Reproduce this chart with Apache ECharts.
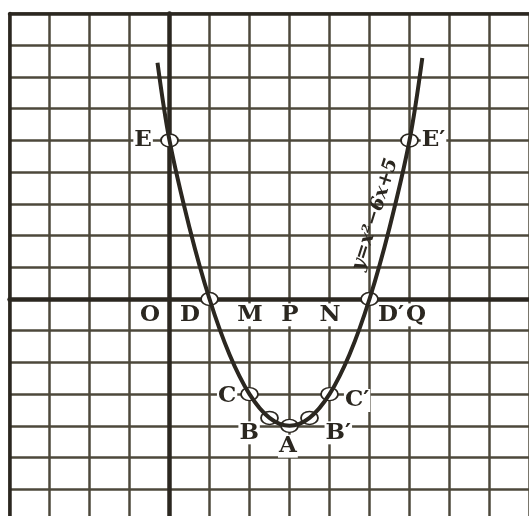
<!DOCTYPE html>
<html lang="en">
<head>
    <meta charset="UTF-8">
    <title>y = x² − 6x + 5</title>
    <script src="https://cdn.jsdelivr.net/npm/echarts@6/dist/echarts.min.js"></script>
    <style>
        html,
        body,
        #chart {
            width: 100%;
            height: 100%;
            margin: 0;
            padding: 0;
            background: #fff;
        }
    </style>
</head>
<body>
    <div id="chart"></div>
    <script>
        // curve
        var curveX = [-0.3, 0, 0.5, 1, 1.5, 2, 2.5, 3, 3.5, 4, 4.5, 5, 5.5, 6, 6.32];
        var curveY = [7.45, 5, 2.25, 0, -1.75, -3, -3.75, -4, -3.75, -3, -1.75, 0, 2.25, 5, 7.6];

        // small circled points
        var pointX = [0, 1, 2, 2.5, 3, 3.5, 4, 5, 6];
        var pointY = [5, 0, -3, -3.75, -4, -3.75, -3, 0, 5];

        // letters
        var labelNames = ['E', 'E′', 'O', 'D', 'M', 'P', 'N', 'D′', 'Q', 'C', 'C′', 'B', 'B′', 'A'];
        var labelX = [-0.66, 6.6, -0.49, 0.51, 2.01, 3.01, 4.01, 5.54, 6.16, 1.44, 4.69, 1.99, 4.22, 2.96];
        var labelY = [5, 5, -0.5, -0.5, -0.5, -0.5, -0.5, -0.5, -0.5, -3.06, -3.2, -4.22, -4.22, -4.64];

        var equation = 'y=x²−6x+5';
        var equationX = [5.14];
        var equationY = [2.66];

        var ink = '#2b2720';
        var gridInk = '#4d483b';

        function pairs(xs, ys) {
            return xs.map(function(x, i) {
                return [x, ys[i]];
            });
        }

        var chart = echarts.init(document.getElementById('chart'));

        var noTick = { show: false };
        var noLabel = { show: false };

        chart.setOption({
            backgroundColor: '#fff',
            animation: false,
            grid: {
                left: 9.5,
                top: 13.6,
                width: 520,
                height: 507.4,
                containLabel: false,
                outerBoundsMode: 'none'
            },
            xAxis: [{
                type: 'value',
                min: -4,
                max: 9,
                interval: 1,
                axisLine: { onZero: true, lineStyle: { color: ink, width: 4.5 } },
                axisTick: noTick,
                axisLabel: noLabel,
                splitLine: { show: true, lineStyle: { color: gridInk, width: 2.5 } }
            }, {
                type: 'value',
                position: 'top',
                min: -4,
                max: 9,
                axisLine: { show: true, onZero: false, lineStyle: { color: ink, width: 3.5 } },
                axisTick: noTick,
                axisLabel: noLabel,
                splitLine: { show: false }
            }],
            yAxis: [{
                type: 'value',
                min: -7,
                max: 9,
                interval: 1,
                axisLine: { show: true, onZero: true, lineStyle: { color: ink, width: 4.5 } },
                axisTick: noTick,
                axisLabel: noLabel,
                splitLine: { show: true, lineStyle: { color: gridInk, width: 2.5 } }
            }, {
                type: 'value',
                position: 'left',
                min: -7,
                max: 9,
                axisLine: { show: true, onZero: false, lineStyle: { color: ink, width: 3.5 } },
                axisTick: noTick,
                axisLabel: noLabel,
                splitLine: { show: false }
            }],
            series: [{
                type: 'scatter',
                z: 2,
                symbolSize: 1,
                itemStyle: { color: 'rgba(0,0,0,0)', opacity: 1 },
                data: labelNames.map(function(name, i) {
                    return { name: name, value: [labelX[i], labelY[i]] };
                }),
                label: {
                    show: true,
                    position: 'inside',
                    formatter: '{b}',
                    fontFamily: 'DejaVu Serif',
                    fontWeight: 'bold',
                    fontSize: 23,
                    color: ink,
                    opacity: 1,
                    backgroundColor: '#fff',
                    padding: [0, 1]
                }
            }, {
                type: 'scatter',
                z: 2,
                symbolSize: 1,
                itemStyle: { color: 'rgba(0,0,0,0)', opacity: 1 },
                data: pairs(equationX, equationY),
                label: {
                    show: true,
                    position: 'inside',
                    formatter: equation,
                    rotate: 72.6,
                    fontFamily: 'DejaVu Serif',
                    fontStyle: 'italic',
                    fontWeight: 'bold',
                    fontSize: 19,
                    color: ink,
                    opacity: 1
                }
            }, {
                type: 'scatter',
                z: 3,
                symbol: 'circle',
                symbolSize: [17, 13],
                itemStyle: { color: '#fff', borderColor: ink, borderWidth: 1.6, opacity: 1 },
                data: pairs(pointX, pointY)
            }, {
                type: 'line',
                z: 4,
                smooth: 0.35,
                showSymbol: false,
                lineStyle: { color: ink, width: 4 },
                data: pairs(curveX, curveY)
            }]
        });
    </script>
</body>
</html>
